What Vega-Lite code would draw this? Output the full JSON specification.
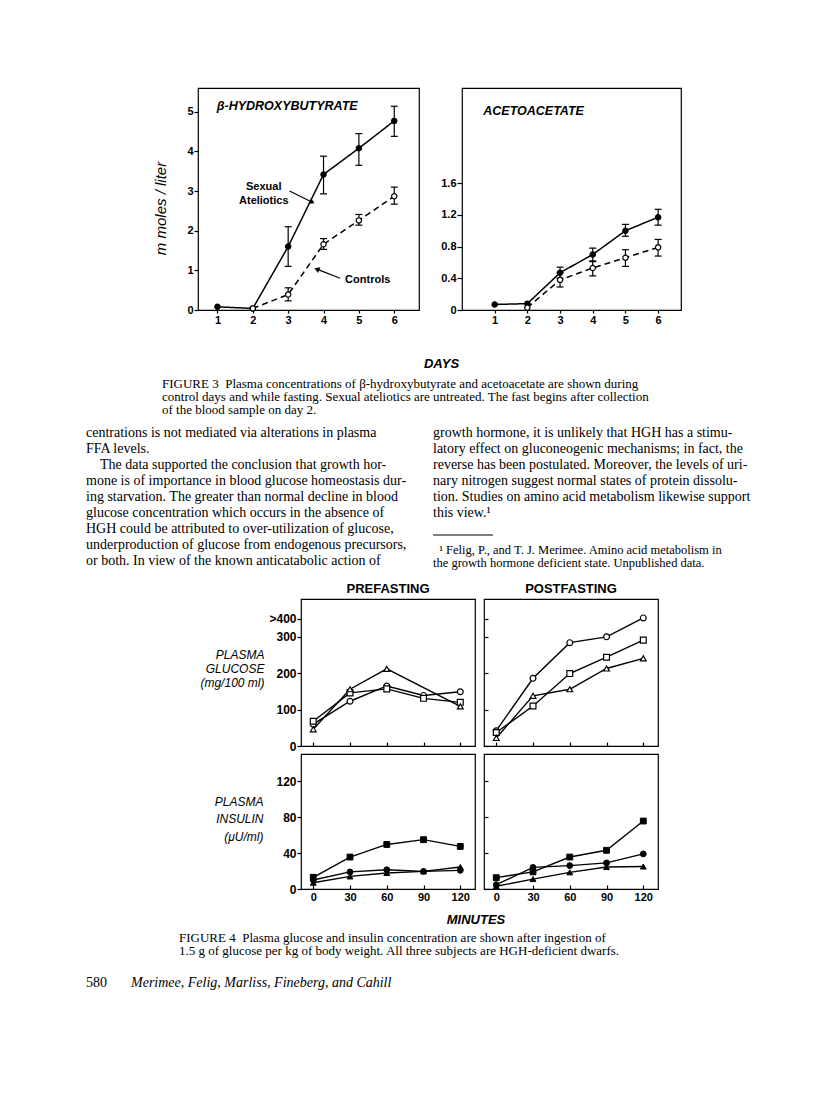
{
  "$schema": "https://vega.github.io/schema/vega-lite/v6.json",
  "padding": {"left": 86, "top": 87, "right": 0, "bottom": 0},
  "autosize": {"type": "pad"},
  "background": "white",
  "spacing": 0,
  "config": {
    "view": {"stroke": null},
    "axis": {"grid": false, "domain": false, "tickColor": "black", "tickWidth": 1.2, "labelColor": "black", "titleColor": "black", "labelFont": "Liberation Sans", "labelFontWeight": "bold", "labelFontSize": 11, "titleFont": "Liberation Sans"},
    "text": {"color": "black"}
  },
  "datasets": {
    "bhb": [
      {"group": "Sexual ateliotics", "day": 1, "value": 0.08},
      {"group": "Sexual ateliotics", "day": 2, "value": 0.04},
      {"group": "Sexual ateliotics", "day": 3, "value": 1.6, "lo": 1.1, "hi": 2.1},
      {"group": "Sexual ateliotics", "day": 4, "value": 3.42, "lo": 2.93, "hi": 3.88},
      {"group": "Sexual ateliotics", "day": 5, "value": 4.08, "lo": 3.65, "hi": 4.45},
      {"group": "Sexual ateliotics", "day": 6, "value": 4.77, "lo": 4.38, "hi": 5.14},
      {"group": "Controls", "day": 2, "value": 0.04},
      {"group": "Controls", "day": 3, "value": 0.39, "lo": 0.23, "hi": 0.56},
      {"group": "Controls", "day": 4, "value": 1.66, "lo": 1.53, "hi": 1.8},
      {"group": "Controls", "day": 5, "value": 2.26, "lo": 2.14, "hi": 2.41},
      {"group": "Controls", "day": 6, "value": 2.87, "lo": 2.67, "hi": 3.1}
    ],
    "aca": [
      {"group": "Sexual ateliotics", "day": 1, "value": 0.07},
      {"group": "Sexual ateliotics", "day": 2, "value": 0.08},
      {"group": "Sexual ateliotics", "day": 3, "value": 0.47, "lo": 0.4, "hi": 0.54},
      {"group": "Sexual ateliotics", "day": 4, "value": 0.7, "lo": 0.62, "hi": 0.78},
      {"group": "Sexual ateliotics", "day": 5, "value": 1.0, "lo": 0.93, "hi": 1.08},
      {"group": "Sexual ateliotics", "day": 6, "value": 1.17, "lo": 1.07, "hi": 1.27},
      {"group": "Controls", "day": 2, "value": 0.03},
      {"group": "Controls", "day": 3, "value": 0.38, "lo": 0.29, "hi": 0.47},
      {"group": "Controls", "day": 4, "value": 0.53, "lo": 0.43, "hi": 0.61},
      {"group": "Controls", "day": 5, "value": 0.66, "lo": 0.55, "hi": 0.76},
      {"group": "Controls", "day": 6, "value": 0.79, "lo": 0.68, "hi": 0.89}
    ],
    "gpre": [
      {"subject": "circle", "minute": 0, "value": 60}, {"subject": "circle", "minute": 30, "value": 123}, {"subject": "circle", "minute": 60, "value": 165}, {"subject": "circle", "minute": 90, "value": 139}, {"subject": "circle", "minute": 120, "value": 149},
      {"subject": "square", "minute": 0, "value": 68}, {"subject": "square", "minute": 30, "value": 146}, {"subject": "square", "minute": 60, "value": 157}, {"subject": "square", "minute": 90, "value": 131}, {"subject": "square", "minute": 120, "value": 120},
      {"subject": "triangle", "minute": 0, "value": 46}, {"subject": "triangle", "minute": 30, "value": 156}, {"subject": "triangle", "minute": 60, "value": 212}, {"subject": "triangle", "minute": 120, "value": 109}
    ],
    "gpost": [
      {"subject": "circle", "minute": 0, "value": 42}, {"subject": "circle", "minute": 30, "value": 186}, {"subject": "circle", "minute": 60, "value": 284}, {"subject": "circle", "minute": 90, "value": 300}, {"subject": "circle", "minute": 120, "value": 352},
      {"subject": "square", "minute": 0, "value": 37}, {"subject": "square", "minute": 30, "value": 110}, {"subject": "square", "minute": 60, "value": 199}, {"subject": "square", "minute": 90, "value": 244}, {"subject": "square", "minute": 120, "value": 291},
      {"subject": "triangle", "minute": 0, "value": 22}, {"subject": "triangle", "minute": 30, "value": 138}, {"subject": "triangle", "minute": 60, "value": 156}, {"subject": "triangle", "minute": 90, "value": 213}, {"subject": "triangle", "minute": 120, "value": 241}
    ],
    "ipre": [
      {"subject": "square", "minute": 0, "value": 13}, {"subject": "square", "minute": 30, "value": 35.5}, {"subject": "square", "minute": 60, "value": 49.5}, {"subject": "square", "minute": 90, "value": 54.8}, {"subject": "square", "minute": 120, "value": 47.3},
      {"subject": "circle", "minute": 0, "value": 10}, {"subject": "circle", "minute": 30, "value": 19}, {"subject": "circle", "minute": 60, "value": 21.4}, {"subject": "circle", "minute": 90, "value": 19.6}, {"subject": "circle", "minute": 120, "value": 20.7},
      {"subject": "triangle", "minute": 0, "value": 7}, {"subject": "triangle", "minute": 30, "value": 14}, {"subject": "triangle", "minute": 60, "value": 17.8}, {"subject": "triangle", "minute": 90, "value": 19.6}, {"subject": "triangle", "minute": 120, "value": 24.4}
    ],
    "ipost": [
      {"subject": "square", "minute": 0, "value": 12.6}, {"subject": "square", "minute": 30, "value": 19}, {"subject": "square", "minute": 60, "value": 35.5}, {"subject": "square", "minute": 90, "value": 43}, {"subject": "square", "minute": 120, "value": 75.5},
      {"subject": "circle", "minute": 0, "value": 4.8}, {"subject": "circle", "minute": 30, "value": 24}, {"subject": "circle", "minute": 60, "value": 26}, {"subject": "circle", "minute": 90, "value": 29}, {"subject": "circle", "minute": 120, "value": 39},
      {"subject": "triangle", "minute": 0, "value": 3}, {"subject": "triangle", "minute": 30, "value": 11}, {"subject": "triangle", "minute": 60, "value": 18.5}, {"subject": "triangle", "minute": 90, "value": 24.4}, {"subject": "triangle", "minute": 120, "value": 25}
    ],
    "cap3": [
      {"line": 1, "text": "FIGURE 3\u00a0\u00a0Plasma concentrations of β-hydroxybutyrate and acetoacetate are shown during"},
      {"line": 2, "text": "control days and while fasting. Sexual ateliotics are untreated. The fast begins after collection"},
      {"line": 3, "text": "of the blood sample on day 2."}
    ],
    "bodyL": [
      {"line": 1, "text": "centrations is not mediated via alterations in plasma"},
      {"line": 2, "text": "FFA levels."},
      {"line": 3, "text": "\u200b\u00a0\u00a0\u00a0\u00a0The data supported the conclusion that growth hor-"},
      {"line": 4, "text": "mone is of importance in blood glucose homeostasis dur-"},
      {"line": 5, "text": "ing starvation. The greater than normal decline in blood"},
      {"line": 6, "text": "glucose concentration which occurs in the absence of"},
      {"line": 7, "text": "HGH could be attributed to over-utilization of glucose,"},
      {"line": 8, "text": "underproduction of glucose from endogenous precursors,"},
      {"line": 9, "text": "or both. In view of the known anticatabolic action of"}
    ],
    "bodyR": [
      {"line": 1, "text": "growth hormone, it is unlikely that HGH has a stimu-"},
      {"line": 2, "text": "latory effect on gluconeogenic mechanisms; in fact, the"},
      {"line": 3, "text": "reverse has been postulated. Moreover, the levels of uri-"},
      {"line": 4, "text": "nary nitrogen suggest normal states of protein dissolu-"},
      {"line": 5, "text": "tion. Studies on amino acid metabolism likewise support"},
      {"line": 6, "text": "this view.¹"}
    ],
    "foot": [
      {"line": 1, "text": "\u200b\u00a0\u00a0¹ Felig, P., and T. J. Merimee. Amino acid metabolism in"},
      {"line": 2, "text": "the growth hormone deficient state. Unpublished data."}
    ],
    "cap4": [
      {"line": 1, "text": "FIGURE 4\u00a0\u00a0Plasma glucose and insulin concentration are shown after ingestion of"},
      {"line": 2, "text": "1.5 g of glucose per kg of body weight. All three subjects are HGH-deficient dwarfs."}
    ]
  },
  "vconcat": [
    {
      "hconcat": [
        {"width": 69, "height": 222, "data": {"values": []}, "mark": {"type": "point", "opacity": 0}},
        {
          "width": 221, "height": 222,
          "view": {"stroke": "black", "strokeWidth": 1.2},
          "data": {"name": "bhb"},
          "encoding": {
            "x": {"field": "day", "type": "quantitative", "scale": {"domain": [0.45, 6.7], "nice": false, "zero": false}, "axis": {"values": [1, 2, 3, 4, 5, 6], "format": "d", "title": null, "tickSize": 3, "labelPadding": 1, "labelAngle": 0}},
            "y": {"field": "value", "type": "quantitative", "scale": {"domain": [0, 5.6], "nice": false, "zero": false}, "axis": {"values": [0, 1, 2, 3, 4, 5], "format": "d", "title": "m moles / liter", "titleFontSize": 15, "titleFontStyle": "italic", "titleFontWeight": "normal", "titlePadding": 18, "titleY": 120, "tickSize": 4, "labelPadding": 1}}
          },
          "layer": [
            {"mark": {"type": "line", "color": "black", "strokeWidth": 1.5}, "encoding": {"strokeDash": {"field": "group", "type": "nominal", "scale": {"domain": ["Sexual ateliotics", "Controls"], "range": [[1, 0], [6, 4]]}, "legend": null}}},
            {"transform": [{"filter": "isValid(datum.lo)"}], "mark": {"type": "rule", "color": "black", "strokeWidth": 1.2}, "encoding": {"y": {"field": "lo", "type": "quantitative", "scale": {"domain": [0, 5.6], "nice": false, "zero": false}}, "y2": {"field": "hi"}}},
            {"transform": [{"filter": "isValid(datum.lo)"}], "mark": {"type": "tick", "orient": "horizontal", "size": 7, "thickness": 1.2, "color": "black", "opacity": 1}, "encoding": {"y": {"field": "lo", "type": "quantitative", "scale": {"domain": [0, 5.6], "nice": false, "zero": false}}}},
            {"transform": [{"filter": "isValid(datum.hi)"}], "mark": {"type": "tick", "orient": "horizontal", "size": 7, "thickness": 1.2, "color": "black", "opacity": 1}, "encoding": {"y": {"field": "hi", "type": "quantitative", "scale": {"domain": [0, 5.6], "nice": false, "zero": false}}}},
            {"mark": {"type": "point", "shape": "circle", "size": 28, "filled": true, "stroke": "black", "strokeWidth": 1.2, "opacity": 1}, "encoding": {"fill": {"field": "group", "type": "nominal", "scale": {"domain": ["Sexual ateliotics", "Controls"], "range": ["black", "white"]}, "legend": null}}},
            {"transform": [{"filter": "datum.day === 1"}], "mark": {"type": "text", "text": "β-HYDROXYBUTYRATE", "align": "left", "baseline": "middle", "font": "Liberation Sans", "fontSize": 12.5, "fontStyle": "italic", "fontWeight": "bold", "color": "black"}, "encoding": {"x": {"datum": 0.98, "type": "quantitative", "scale": {"domain": [0.45, 6.7], "nice": false, "zero": false}}, "y": {"datum": 5.14, "type": "quantitative", "scale": {"domain": [0, 5.6], "nice": false, "zero": false}}}},
            {"transform": [{"filter": "datum.day === 1"}], "mark": {"type": "text", "text": ["Sexual", "Ateliotics"], "align": "center", "baseline": "middle", "lineHeight": 14, "font": "Liberation Sans", "fontSize": 11, "fontWeight": "bold", "color": "black"}, "encoding": {"x": {"datum": 2.31, "type": "quantitative", "scale": {"domain": [0.45, 6.7], "nice": false, "zero": false}}, "y": {"datum": 3.1, "type": "quantitative", "scale": {"domain": [0, 5.6], "nice": false, "zero": false}}}},
            {"transform": [{"filter": "datum.day === 1"}], "mark": {"type": "rule", "color": "black", "strokeWidth": 1.2}, "encoding": {"x": {"datum": 3.04, "type": "quantitative", "scale": {"domain": [0.45, 6.7], "nice": false, "zero": false}}, "x2": {"datum": 3.68}, "y": {"datum": 3.0, "type": "quantitative", "scale": {"domain": [0, 5.6], "nice": false, "zero": false}}, "y2": {"datum": 2.72}}},
            {"transform": [{"filter": "datum.day === 1"}], "mark": {"type": "point", "shape": "triangle-right", "angle": 26, "size": 36, "filled": true, "color": "black", "opacity": 1}, "encoding": {"x": {"datum": 3.68, "type": "quantitative", "scale": {"domain": [0.45, 6.7], "nice": false, "zero": false}}, "y": {"datum": 2.72, "type": "quantitative", "scale": {"domain": [0, 5.6], "nice": false, "zero": false}}}},
            {"transform": [{"filter": "datum.day === 1"}], "mark": {"type": "text", "text": "Controls", "align": "left", "baseline": "middle", "font": "Liberation Sans", "fontSize": 11, "fontWeight": "bold", "color": "black"}, "encoding": {"x": {"datum": 4.61, "type": "quantitative", "scale": {"domain": [0.45, 6.7], "nice": false, "zero": false}}, "y": {"datum": 0.76, "type": "quantitative", "scale": {"domain": [0, 5.6], "nice": false, "zero": false}}}},
            {"transform": [{"filter": "datum.day === 1"}], "mark": {"type": "rule", "color": "black", "strokeWidth": 1.2}, "encoding": {"x": {"datum": 4.47, "type": "quantitative", "scale": {"domain": [0.45, 6.7], "nice": false, "zero": false}}, "x2": {"datum": 3.81}, "y": {"datum": 0.8, "type": "quantitative", "scale": {"domain": [0, 5.6], "nice": false, "zero": false}}, "y2": {"datum": 1.03}}},
            {"transform": [{"filter": "datum.day === 1"}], "mark": {"type": "point", "shape": "triangle-left", "angle": 21, "size": 36, "filled": true, "color": "black", "opacity": 1}, "encoding": {"x": {"datum": 3.81, "type": "quantitative", "scale": {"domain": [0.45, 6.7], "nice": false, "zero": false}}, "y": {"datum": 1.03, "type": "quantitative", "scale": {"domain": [0, 5.6], "nice": false, "zero": false}}}}
          ]
        },
        {
          "width": 219, "height": 222,
          "view": {"stroke": "black", "strokeWidth": 1.2},
          "data": {"name": "aca"},
          "encoding": {
            "x": {"field": "day", "type": "quantitative", "scale": {"domain": [0, 6.7], "nice": false, "zero": false}, "axis": {"values": [1, 2, 3, 4, 5, 6], "format": "d", "title": null, "tickSize": 3, "labelPadding": 1, "labelAngle": 0}},
            "y": {"field": "value", "type": "quantitative", "scale": {"domain": [0, 2.8], "nice": false, "zero": false}, "axis": {"values": [0, 0.4, 0.8, 1.2, 1.6], "format": ".1~f", "title": null, "tickSize": 5, "labelPadding": 1}}
          },
          "layer": [
            {"mark": {"type": "line", "color": "black", "strokeWidth": 1.5}, "encoding": {"strokeDash": {"field": "group", "type": "nominal", "scale": {"domain": ["Sexual ateliotics", "Controls"], "range": [[1, 0], [6, 4]]}, "legend": null}}},
            {"transform": [{"filter": "isValid(datum.lo)"}], "mark": {"type": "rule", "color": "black", "strokeWidth": 1.2}, "encoding": {"y": {"field": "lo", "type": "quantitative", "scale": {"domain": [0, 2.8], "nice": false, "zero": false}}, "y2": {"field": "hi"}}},
            {"transform": [{"filter": "isValid(datum.lo)"}], "mark": {"type": "tick", "orient": "horizontal", "size": 7, "thickness": 1.2, "color": "black", "opacity": 1}, "encoding": {"y": {"field": "lo", "type": "quantitative", "scale": {"domain": [0, 2.8], "nice": false, "zero": false}}}},
            {"transform": [{"filter": "isValid(datum.hi)"}], "mark": {"type": "tick", "orient": "horizontal", "size": 7, "thickness": 1.2, "color": "black", "opacity": 1}, "encoding": {"y": {"field": "hi", "type": "quantitative", "scale": {"domain": [0, 2.8], "nice": false, "zero": false}}}},
            {"mark": {"type": "point", "shape": "circle", "size": 28, "filled": true, "stroke": "black", "strokeWidth": 1.2, "opacity": 1}, "encoding": {"fill": {"field": "group", "type": "nominal", "scale": {"domain": ["Sexual ateliotics", "Controls"], "range": ["black", "white"]}, "legend": null}}},
            {"transform": [{"filter": "datum.day === 1"}], "mark": {"type": "text", "text": "ACETOACETATE", "align": "left", "baseline": "middle", "font": "Liberation Sans", "fontSize": 12.5, "fontStyle": "italic", "fontWeight": "bold", "color": "black"}, "encoding": {"x": {"datum": 0.65, "type": "quantitative", "scale": {"domain": [0, 6.7], "nice": false, "zero": false}}, "y": {"datum": 2.51, "type": "quantitative", "scale": {"domain": [0, 2.8], "nice": false, "zero": false}}}}
          ]
        }
      ],
      "spacing": 43,
      "bounds": "flush"
    },
    {"width": 1, "height": 31, "data": {"values": []}, "mark": {"type": "point", "opacity": 0}},
    {
      "hconcat": [
        {"width": 319, "height": 14, "data": {"values": []}, "mark": {"type": "point", "opacity": 0}},
        {"width": 73, "height": 14, "data": {"values": [{"text": "DAYS"}]}, "mark": {"type": "text", "align": "center", "baseline": "middle", "font": "Liberation Sans", "fontSize": 13, "fontStyle": "italic", "fontWeight": "bold"}, "encoding": {"text": {"field": "text"}}}
      ],
      "spacing": 0, "bounds": "flush"
    },
    {"width": 1, "height": 6, "data": {"values": []}, "mark": {"type": "point", "opacity": 0}},
    {
      "hconcat": [
        {"width": 76, "height": 40, "data": {"values": []}, "mark": {"type": "point", "opacity": 0}},
        {"width": 526, "height": 40, "data": {"name": "cap3"}, "mark": {"type": "text", "align": "left", "baseline": "middle", "font": "Liberation Serif", "fontSize": 13}, "encoding": {"x": {"datum": 0, "type": "quantitative", "scale": {"domain": [0, 1]}, "axis": null}, "y": {"field": "line", "type": "ordinal", "scale": {"type": "point", "padding": 0.5}, "axis": null}, "text": {"field": "text"}}}
      ],
      "spacing": 0, "bounds": "flush"
    },
    {"width": 1, "height": 7, "data": {"values": []}, "mark": {"type": "point", "opacity": 0}},
    {
      "hconcat": [
        {"width": 338, "height": 144, "data": {"name": "bodyL"}, "mark": {"type": "text", "align": "left", "baseline": "middle", "font": "Liberation Serif", "fontSize": 14}, "encoding": {"x": {"datum": 0, "type": "quantitative", "scale": {"domain": [0, 1]}, "axis": null}, "y": {"field": "line", "type": "ordinal", "scale": {"type": "point", "padding": 0.5}, "axis": null}, "text": {"field": "text"}}},
        {
          "vconcat": [
            {"width": 338, "height": 96, "data": {"name": "bodyR"}, "mark": {"type": "text", "align": "left", "baseline": "middle", "font": "Liberation Serif", "fontSize": 14}, "encoding": {"x": {"datum": 0, "type": "quantitative", "scale": {"domain": [0, 1]}, "axis": null}, "y": {"field": "line", "type": "ordinal", "scale": {"type": "point", "padding": 0.5}, "axis": null}, "text": {"field": "text"}}},
            {"width": 60, "height": 14, "data": {"values": [{"rule": "footnote separator"}]}, "mark": {"type": "rule", "color": "black", "strokeWidth": 1}, "encoding": {"x": {"datum": 0, "type": "quantitative", "scale": {"domain": [0, 1]}, "axis": null}, "x2": {"datum": 1}, "y": {"datum": 0, "type": "quantitative", "scale": {"domain": [0, 1]}, "axis": null}}},
            {"width": 1, "height": 8, "data": {"values": []}, "mark": {"type": "point", "opacity": 0}},
            {"width": 338, "height": 27, "data": {"name": "foot"}, "mark": {"type": "text", "align": "left", "baseline": "middle", "font": "Liberation Serif", "fontSize": 12.5}, "encoding": {"x": {"datum": 0, "type": "quantitative", "scale": {"domain": [0, 1]}, "axis": null}, "y": {"field": "line", "type": "ordinal", "scale": {"type": "point", "padding": 0.5}, "axis": null}, "text": {"field": "text"}}}
          ],
          "spacing": 0, "bounds": "flush"
        }
      ],
      "spacing": 8
    },
    {"width": 1, "height": 12, "data": {"values": []}, "mark": {"type": "point", "opacity": 0}},
    {
      "hconcat": [
        {"width": 206, "height": 14, "data": {"values": []}, "mark": {"type": "point", "opacity": 0}},
        {"width": 174, "height": 14, "data": {"values": [{"text": "PREFASTING"}]}, "mark": {"type": "text", "align": "center", "baseline": "middle", "font": "Liberation Sans", "fontSize": 13, "fontWeight": "bold"}, "encoding": {"text": {"field": "text"}}},
        {"width": 174, "height": 14, "data": {"values": [{"text": "POSTFASTING"}]}, "mark": {"type": "text", "align": "center", "baseline": "middle", "font": "Liberation Sans", "fontSize": 13, "fontWeight": "bold"}, "encoding": {"text": {"field": "text"}}}
      ],
      "spacing": 9, "bounds": "flush"
    },
    {"width": 1, "height": 2, "data": {"values": []}, "mark": {"type": "point", "opacity": 0}},
    {
      "concat": [
        {"width": 206, "height": 147, "data": {"values": []}, "mark": {"type": "point", "opacity": 0}},
        {
          "width": 174, "height": 147,
          "view": {"stroke": "black", "strokeWidth": 1.2},
          "data": {"name": "gpre"},
          "encoding": {
            "x": {"field": "minute", "type": "quantitative", "scale": {"domain": [-10, 132], "nice": false, "zero": false}, "axis": {"values": [0, 30, 60, 90, 120], "labels": false, "tickSize": -4, "title": null}},
            "y": {"field": "value", "type": "quantitative", "scale": {"domain": [0, 404], "nice": false}, "axis": {"values": [0, 100, 200, 300, 350], "labelExpr": "datum.value == 350 ? '>400' : datum.label", "labelFontSize": 12, "tickSize": 4, "labelPadding": 1, "title": ["PLASMA", "GLUCOSE", "(mg/100 ml)"], "titleAngle": 0, "titleAlign": "right", "titleBaseline": "middle", "titleFontSize": 12, "titleFontStyle": "italic", "titleFontWeight": "normal", "titleLineHeight": 14, "titlePadding": -23, "titleY": 55}}
          },
          "layer": [
            {"mark": {"type": "line", "color": "black", "strokeWidth": 1.4}, "encoding": {"detail": {"field": "subject", "type": "nominal"}}},
            {"mark": {"type": "point", "filled": true, "fill": "white", "stroke": "black", "strokeWidth": 1.2, "size": 34, "opacity": 1}, "encoding": {"shape": {"field": "subject", "type": "nominal", "scale": {"domain": ["circle", "square", "triangle"], "range": ["circle", "square", "triangle-up"]}, "legend": null}}}
          ]
        },
        {
          "width": 174, "height": 147,
          "view": {"stroke": "black", "strokeWidth": 1.2},
          "data": {"name": "gpost"},
          "encoding": {
            "x": {"field": "minute", "type": "quantitative", "scale": {"domain": [-10, 132], "nice": false, "zero": false}, "axis": {"values": [0, 30, 60, 90, 120], "labels": false, "tickSize": -4, "title": null}},
            "y": {"field": "value", "type": "quantitative", "scale": {"domain": [0, 404], "nice": false}, "axis": {"values": [0, 100, 200, 300, 350], "labels": false, "tickSize": -4, "title": null}}
          },
          "layer": [
            {"mark": {"type": "line", "color": "black", "strokeWidth": 1.4}, "encoding": {"detail": {"field": "subject", "type": "nominal"}}},
            {"mark": {"type": "point", "filled": true, "fill": "white", "stroke": "black", "strokeWidth": 1.2, "size": 34, "opacity": 1}, "encoding": {"shape": {"field": "subject", "type": "nominal", "scale": {"domain": ["circle", "square", "triangle"], "range": ["circle", "square", "triangle-up"]}, "legend": null}}}
          ]
        },
        {"width": 206, "height": 135, "data": {"values": []}, "mark": {"type": "point", "opacity": 0}},
        {
          "width": 174, "height": 135,
          "view": {"stroke": "black", "strokeWidth": 1.2},
          "data": {"name": "ipre"},
          "encoding": {
            "x": {"field": "minute", "type": "quantitative", "scale": {"domain": [-10, 132], "nice": false, "zero": false}, "axis": {"values": [0, 30, 60, 90, 120], "tickSize": -4, "labelPadding": 6, "title": null}},
            "y": {"field": "value", "type": "quantitative", "scale": {"domain": [0, 150], "nice": false}, "axis": {"values": [0, 40, 80, 120], "labelFontSize": 12, "tickSize": 4, "labelPadding": 1, "title": ["PLASMA", "INSULIN", "(μU/ml)"], "titleAngle": 0, "titleAlign": "right", "titleBaseline": "middle", "titleFontSize": 12, "titleFontStyle": "italic", "titleFontWeight": "normal", "titleLineHeight": 17.5, "titlePadding": -22, "titleY": 47}}
          },
          "layer": [
            {"mark": {"type": "line", "color": "black", "strokeWidth": 1.4}, "encoding": {"detail": {"field": "subject", "type": "nominal"}}},
            {"mark": {"type": "point", "filled": true, "fill": "black", "stroke": "black", "strokeWidth": 1, "size": 34, "opacity": 1}, "encoding": {"shape": {"field": "subject", "type": "nominal", "scale": {"domain": ["circle", "square", "triangle"], "range": ["circle", "square", "triangle-up"]}, "legend": null}}}
          ]
        },
        {
          "width": 174, "height": 135,
          "view": {"stroke": "black", "strokeWidth": 1.2},
          "data": {"name": "ipost"},
          "encoding": {
            "x": {"field": "minute", "type": "quantitative", "scale": {"domain": [-10, 132], "nice": false, "zero": false}, "axis": {"values": [0, 30, 60, 90, 120], "tickSize": -4, "labelPadding": 6, "title": null}},
            "y": {"field": "value", "type": "quantitative", "scale": {"domain": [0, 150], "nice": false}, "axis": {"values": [0, 40, 80, 120], "labels": false, "tickSize": -4, "title": null}}
          },
          "layer": [
            {"mark": {"type": "line", "color": "black", "strokeWidth": 1.4}, "encoding": {"detail": {"field": "subject", "type": "nominal"}}},
            {"mark": {"type": "point", "filled": true, "fill": "black", "stroke": "black", "strokeWidth": 1, "size": 34, "opacity": 1}, "encoding": {"shape": {"field": "subject", "type": "nominal", "scale": {"domain": ["circle", "square", "triangle"], "range": ["circle", "square", "triangle-up"]}, "legend": null}}}
          ]
        }
      ],
      "columns": 3,
      "spacing": {"row": 8, "column": 9},
      "bounds": "flush"
    },
    {"width": 1, "height": 10, "data": {"values": []}, "mark": {"type": "point", "opacity": 0}},
    {
      "hconcat": [
        {"width": 352, "height": 14, "data": {"values": []}, "mark": {"type": "point", "opacity": 0}},
        {"width": 76, "height": 14, "data": {"values": [{"text": "MINUTES"}]}, "mark": {"type": "text", "align": "center", "baseline": "middle", "font": "Liberation Sans", "fontSize": 13, "fontStyle": "italic", "fontWeight": "bold"}, "encoding": {"text": {"field": "text"}}}
      ],
      "spacing": 0, "bounds": "flush"
    },
    {"width": 1, "height": 4, "data": {"values": []}, "mark": {"type": "point", "opacity": 0}},
    {
      "hconcat": [
        {"width": 93, "height": 27, "data": {"values": []}, "mark": {"type": "point", "opacity": 0}},
        {"width": 480, "height": 27, "data": {"name": "cap4"}, "mark": {"type": "text", "align": "left", "baseline": "middle", "font": "Liberation Serif", "fontSize": 13}, "encoding": {"x": {"datum": 0, "type": "quantitative", "scale": {"domain": [0, 1]}, "axis": null}, "y": {"field": "line", "type": "ordinal", "scale": {"type": "point", "padding": 0.5}, "axis": null}, "text": {"field": "text"}}}
      ],
      "spacing": 0, "bounds": "flush"
    },
    {"width": 1, "height": 16, "data": {"values": []}, "mark": {"type": "point", "opacity": 0}},
    {
      "hconcat": [
        {"width": 45, "height": 16, "data": {"values": [{"text": "580"}]}, "mark": {"type": "text", "align": "left", "baseline": "middle", "font": "Liberation Serif", "fontSize": 14}, "encoding": {"x": {"datum": 0, "type": "quantitative", "scale": {"domain": [0, 1]}, "axis": null}, "text": {"field": "text"}}},
        {"width": 400, "height": 16, "data": {"values": [{"text": "Merimee, Felig, Marliss, Fineberg, and Cahill"}]}, "mark": {"type": "text", "align": "left", "baseline": "middle", "font": "Liberation Serif", "fontSize": 14, "fontStyle": "italic"}, "encoding": {"x": {"datum": 0, "type": "quantitative", "scale": {"domain": [0, 1]}, "axis": null}, "text": {"field": "text"}}}
      ],
      "spacing": 0, "bounds": "flush"
    }
  ]
}
